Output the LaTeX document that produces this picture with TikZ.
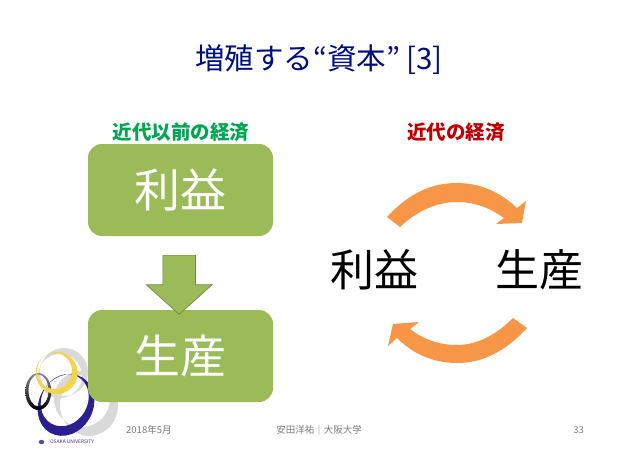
\documentclass[tikz,border=0pt]{standalone}
\usepackage{fontspec}
\setmainfont{Noto Sans CJK JP}
\usetikzlibrary{shapes.arrows}
\definecolor{boxgreen}{HTML}{9BBB59}
\definecolor{edgegreen}{HTML}{71893F}
\definecolor{cycleorange}{HTML}{F79646}
\definecolor{titlenavy}{HTML}{000E80}
\definecolor{labelgreen}{HTML}{00A651}
\definecolor{labelred}{HTML}{C00000}
\definecolor{footgray}{HTML}{7A7A7A}
\definecolor{ringblue}{HTML}{2A1F8F}
\definecolor{ringyellow}{HTML}{F5D34A}
\definecolor{ringgray}{HTML}{D9D9D9}
\tikzset{
    greenbox/.style={fill=boxgreen, rounded corners=14pt, minimum width=185pt, minimum height=92pt,
        text=white, font=\fontsize{46}{46}\selectfont, inner sep=0pt},
    bigword/.style={font=\fontsize{44}{44}\selectfont, inner sep=0pt},
    headword/.style={font=\fontsize{19.5}{20}\selectfont\bfseries, inner sep=0pt},
    footword/.style={font=\fontsize{9.5}{10}\selectfont, text=footgray, inner sep=0pt},
}
\begin{document}
\begin{tikzpicture}[x=1pt, y=-1pt]
    \useasboundingbox (0,0) rectangle (638,452);

    \node[font=\fontsize{29.5}{31}\selectfont, text=titlenavy, inner sep=0pt] (title) at (319,60) {増殖する“資本” [3]};
    \node[headword, text=labelgreen] (oldhead) at (181,132) {近代以前の経済};
    \node[headword, text=labelred] (newhead) at (456,132) {近代の経済};

    % logo, behind the lower box
    \fill[ringgray, even odd rule] (89,405) ellipse (29 and 31) (82,399) ellipse (28 and 28);
    \fill[ringgray, even odd rule] (64,372) ellipse (24 and 24) (60,376) ellipse (22 and 22);
    \fill[ringblue, even odd rule, rotate around={-30:(66,405)}] (66,405) ellipse (27 and 32) (62.5,401.5) ellipse (23 and 27);
    \shade[top color=black!45, bottom color=black, even odd rule] (38.3,391.5) ellipse (13 and 18.5) (38.5,390.5) ellipse (10 and 16);
    \fill[ringyellow, even odd rule] (56.7,373) ellipse (21 and 21) (54.5,371) ellipse (17.5 and 18);
    \fill[ringblue!80] (41.5,442) ellipse (2.8 and 2.2);
    \node[font=\fontsize{4.9}{5}\selectfont, text=ringblue!75!gray, inner sep=0pt] (osaka) at (72,442) {OSAKA UNIVERSITY};

    \node[greenbox] (oldgain) at (180.5,190) {利益};
    \node[greenbox] (oldmake) at (180.5,356) {生産};
    \node[single arrow, shape border rotate=270, fill=boxgreen, draw=edgegreen, line width=0.7pt,
        minimum width=65pt, minimum height=59pt, single arrow head extend=16.5pt,
        single arrow tip angle=96, inner sep=16pt] (downarrow) at (179.2,277.5) {};

    \node[bigword] (newgain) at (374,270) {利益};
    \node[bigword] (newmake) at (539,270) {生産};

    % the two curved arrows
    \fill[cycleorange] (387,217) .. controls (410,192) and (433,183) .. (457,183)
        .. controls (480,183) and (500,192) .. (517,208) -- (526,201) -- (522,223) -- (496,224) -- (504,218)
        .. controls (490,208) and (475,202) .. (457,202)
        .. controls (438,202) and (418,210) .. (400,227) -- cycle;
    \fill[cycleorange] (527,328) .. controls (505,352) and (482,363) .. (457,363)
        .. controls (432,363) and (412,353) .. (397,338) -- (388,346) -- (393,324) -- (419,322) -- (410,329)
        .. controls (424,340) and (440,345) .. (457,345)
        .. controls (477,345) and (496,335) .. (513,318) -- cycle;

    \node[footword, anchor=west] (footdate) at (126,430) {2018年5月};
    \node[footword] (footname) at (319,430) {安田洋祐｜大阪大学};
    \node[footword, anchor=east] (footpage) at (584,430) {33};
\end{tikzpicture}
\end{document}
